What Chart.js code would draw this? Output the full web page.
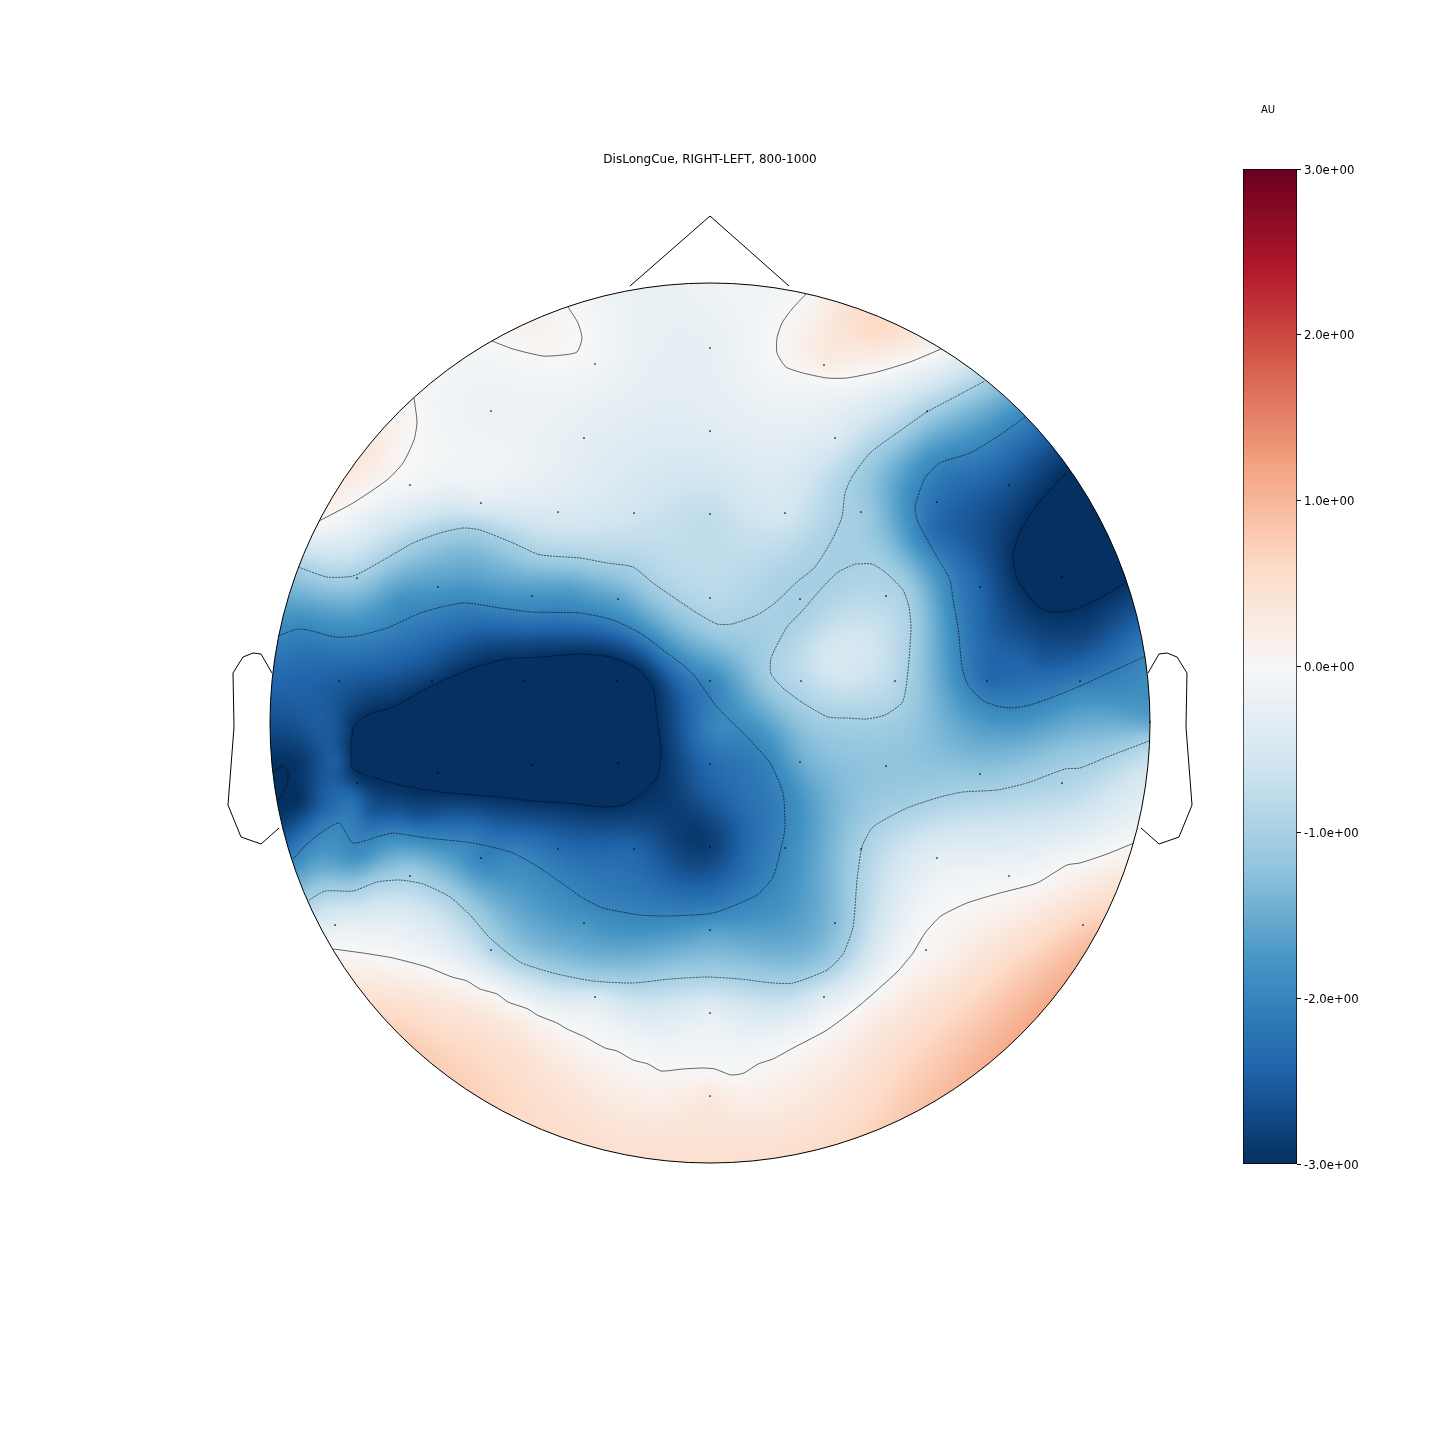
<!DOCTYPE html>
<html>
<head>
<meta charset="utf-8">
<title>DisLongCue</title>
<script src="https://cdn.jsdelivr.net/npm/chart.js@4"></script>
<style>
  html, body { margin: 0; background: #fff; }
  canvas { position: absolute; }
  #headChart { left: 0; top: 0; }
  #barChart { left: 1156px; top: 95px; }
</style>
</head>
<body>
<canvas id="headChart" width="1420" height="1440"></canvas>
<canvas id="barChart" width="224" height="1078"></canvas>
<script>
const chartTitle = 'DisLongCue, RIGHT-LEFT, 800-1000';
const unitLabel = 'AU';
const barTicks = [-3, -2, -1, 0, 1, 2, 3];

// sensors: x, y, value
const sensors = [
  [710,348,-0.25],[595,364,-0.1],[824,365,0.25],[491,411,-0.2],[927,411,-1.0],
  [584,438,-0.3],[710,431,-0.35],[835,438,-0.45],[410,485,-0.05],[1009,485,-2.6],
  [481,503,-0.35],[558,512,-0.45],[634,513,-0.6],[710,514,-0.75],[785,513,-0.55],
  [861,512,-1.05],[937,502,-2.25],[357,578,-1.05],[1062,577,-3.4],[438,587,-1.7],
  [532,596,-1.8],[618,599,-1.6],[710,598,-0.85],[800,599,-1.0],[886,596,-0.9],
  [980,587,-2.4],[339,681,-2.5],[432,681,-2.85],[524,681,-3.1],[617,681,-3.2],
  [710,681,-2.0],[801,681,-0.85],[895,681,-0.85],[987,681,-2.35],[1080,681,-2.15],
  [1150,722,-1.6],[357,783,-2.8],[438,773,-3.4],[532,765,-3.5],[618,763,-3.5],
  [710,764,-2.35],[800,762,-1.5],[886,766,-1.2],[980,774,-1.2],[1062,783,-0.95],
  [481,858,-2.05],[558,849,-2.3],[634,849,-2.4],[710,847,-2.85],[785,848,-1.95],
  [861,849,-1.0],[937,858,-0.3],[1009,876,-0.1],[410,876,-1.0],[335,925,-0.3],
  [584,923,-1.75],[710,930,-1.65],[835,923,-1.3],[1083,925,0.7],[491,950,-0.9],
  [926,950,0.0],[595,997,-0.45],[824,997,-0.4],[710,1013,-0.3],[710,1096,0.3]
];

// colours read along the rim and at a few spots between the sensors
const rimValues = [
  [710,283,-0.15],[630,290,-0.2],[530,318,0.15],[365,450,0.35],[285,610,-1.7],
  [270,700,-2.5],[270,740,-2.8],[278,800,-3],[283,830,-2.7],[380,1015,0.6],
  [400,1040,0.75],[440,1070,0.75],[520,1125,0.6],[610,1152,0.5],[710,1163,0.5],
  [810,1152,0.55],[900,1120,0.8],[975,1075,1.05],[1040,1015,1.15],[1090,940,0.9],
  [880,317,0.6],[850,307,0.45],[760,286,-0.1]
];
const spotValues = [
  [1000,1000,0.8],[860,340,0.4],[870,330,0.6],[375,465,0.25],[850,640,-0.55],
  [830,660,-0.5],[770,610,-0.95],[500,730,-3.8],[320,727,-2.5],[300,680,-2.4],
  [320,660,-2.3],[345,730,-2.7],[300,757,-2.9],[320,760,-2.65],[338,760,-2.45],
  [300,800,-3],[320,790,-2.55],[335,810,-2.3],[353,797,-2.3],[357,813,-2.2],
  [367,813,-2.55],[420,815,-2.65],[500,820,-2.6],[357,860,-1.8],[697,830,-2.9],
  [1090,630,-2.8],[1020,660,-2.4],[930,530,-2.3],[990,530,-2.7],[1000,560,-2.8],
  [1000,620,-2.6],[1040,660,-2.55],[713,730,-2.0],[400,920,-0.35],[440,1030,0.55],
  [420,1040,0.7],[710,1140,0.4],[560,1100,0.45],[860,1100,0.5],[400,598,-1.8],
  [490,580,-1.6],[570,590,-1.7],[670,790,-2.9],[700,790,-2.55],[740,800,-2.3],
  [750,850,-2.3]
];

// contour lines, level then points
const contourTopLeftLevel = 0;
const contourTopLeft = [[414,398],[417,422],[414,440],[403,463],[387,480],[353,503],[319,521]];
const contourTopInnerLevel = 0;
const contourTopInner = [[492,341],[513,349],[543,356],[563,355],[577,352],[582,338],[578,323],[568,307]];
const contourTopRightLevel = 0;
const contourTopRight = [[806,294],[792,309],[782,323],[777,338],[777,353],[786,367],[803,373],[827,378],[847,378],[877,372],[910,362],[941,349]];
const contourBottomLevel = 0;
const contourBottom = [[333,949],[363,953],[393,958],[427,967],[452,977],[467,981],[480,989],[497,994],[508,1002],[528,1009],[537,1015],[557,1023],[567,1029],[585,1037],[605,1048],[617,1051],[633,1060],[648,1064],[661,1071],[683,1069],[703,1068],[715,1069],[731,1075],[744,1073],[758,1064],[773,1059],[793,1048],[827,1030],[860,1005],[897,972],[913,953],[925,933],[941,916],[967,903],[1000,893],[1037,883],[1067,865],[1080,863],[1107,854],[1134,843]];
const contourUpperLevel = -1;
const contourUpper = [[298,567],[327,577],[353,576],[380,562],[413,543],[440,533],[463,528],[480,530],[513,543],[537,554],[550,556],[580,558],[607,563],[633,567],[653,583],[673,597],[697,613],[717,624],[732,624],[757,615],[775,603],[797,582],[815,567],[832,540],[842,517],[845,493],[852,477],[870,453],[897,433],[927,412],[953,398],[985,381]];
const contourIslandLevel = -1;
const contourIsland = [[855,564],[872,564],[885,572],[903,590],[909,607],[911,627],[909,660],[906,688],[902,703],[885,715],[867,719],[847,718],[828,717],[803,703],[783,688],[771,674],[771,658],[787,627],[803,610],[820,590],[838,572],[855,564]];
const contourLowerLevel = -1;
const contourLower = [[309,900],[325,891],[353,891],[377,882],[400,880],[423,884],[450,897],[470,915],[490,938],[520,962],[553,973],[593,981],[633,983],[670,979],[707,977],[740,979],[773,983],[793,983],[827,970],[843,954],[853,927],[857,880],[862,847],[873,827],[907,808],[940,797],[963,792],[997,790],[1027,783],[1065,769],[1080,768],[1107,757],[1149,741]];
const contourCentreLevel = -2;
const contourCentre = [[278,636],[298,629],[312,631],[335,637],[357,636],[387,628],[423,612],[463,603],[500,608],[532,612],[580,613],[613,620],[640,633],[667,653],[692,673],[717,707],[747,737],[770,763],[783,793],[785,827],[783,840],[773,877],[757,895],[720,911],[707,914],[670,916],[640,915],[603,908],[583,898],[543,870],[513,853],[473,843],[427,838],[393,833],[380,836],[353,843],[339,823],[325,830],[308,843],[293,859]];
const contourRightLevel = -2;
const contourRight = [[1025,417],[1000,435],[970,453],[940,463],[925,478],[915,507],[918,522],[937,557],[950,580],[953,600],[958,627],[962,667],[968,685],[982,700],[997,706],[1012,708],[1030,705],[1053,697],[1080,686],[1146,656]];
const contourCoreLevel = -3;
const contourCore = [[353,727],[367,715],[393,707],[433,685],[473,668],[507,659],[540,657],[580,654],[610,657],[637,668],[653,687],[657,720],[661,750],[657,777],[643,793],[623,805],[603,807],[567,803],[533,801],[500,797],[440,792],[400,785],[353,769],[351,747],[353,727]];
const contourPeakLevel = -3;
const contourPeak = [[1068,471],[1053,487],[1033,510],[1018,537],[1013,557],[1017,578],[1030,598],[1040,608],[1053,612],[1073,610],[1100,598],[1125,583]];
const contourEdgeLevel = -3;
const contourEdge = [[273,772],[283,766],[288,772],[287,785],[277,802]];

// head outline
const nose = [[630,286],[710,216],[789,286]];
const leftEar = [[272,673],[261,654],[253,653],[243,657],[233,673],[234,727],[228,805],[241,837],[261,844],[279,828]];
const rightEar = [[1148,673],[1159,654],[1167,653],[1177,657],[1187,673],[1186,727],[1192,805],[1179,837],[1159,844],[1141,828]];
const headCentre = [710, 723];
const headRadius = 440;

const contours = [
  [contourTopLeft, contourTopLeftLevel], [contourTopInner, contourTopInnerLevel],
  [contourTopRight, contourTopRightLevel], [contourBottom, contourBottomLevel],
  [contourUpper, contourUpperLevel], [contourIsland, contourIslandLevel],
  [contourLower, contourLowerLevel], [contourCentre, contourCentreLevel],
  [contourRight, contourRightLevel], [contourCore, contourCoreLevel],
  [contourPeak, contourPeakLevel], [contourEdge, contourEdgeLevel]
];

const rdbu = ['#053061','#2166ac','#4393c3','#92c5de','#d1e5f0','#f7f7f7','#fddbc7','#f4a582','#d6604d','#b2182b','#67001f']
  .map((c) => [1, 3, 5].map((i) => parseInt(c.substr(i, 2), 16)));

function colourFor(v) {
  const t = Math.min(0.99999, Math.max(0, (v + 3) / 6)) * 10;
  const i = Math.floor(t);
  const f = t - i;
  return rdbu[i].map((c, k) => c + (rdbu[i + 1][k] - c) * f);
}

// thin plate spline through everything
function fitField() {
  const pts = sensors.concat(rimValues, spotValues);
  contours.forEach(([line, level]) => line.forEach(([x, y]) => pts.push([x, y, level])));
  const xs = pts.map((p) => (p[0] - headCentre[0]) / headRadius);
  const ys = pts.map((p) => (p[1] - headCentre[1]) / headRadius);
  const n = pts.length;
  const size = n + 3;
  const m = [];
  for (let i = 0; i < size; i++) m.push(new Float64Array(size + 1));
  for (let i = 0; i < n; i++) {
    for (let j = 0; j < n; j++) {
      const d = (xs[i] - xs[j]) ** 2 + (ys[i] - ys[j]) ** 2;
      m[i][j] = d > 0 ? 0.5 * d * Math.log(d) : 0;
    }
    m[i][i] = 0.0005;
    m[i][n] = 1; m[i][n + 1] = xs[i]; m[i][n + 2] = ys[i];
    m[n][i] = 1; m[n + 1][i] = xs[i]; m[n + 2][i] = ys[i];
    m[i][size] = pts[i][2];
  }
  for (let c = 0; c < size; c++) {
    let best = c;
    for (let r = c + 1; r < size; r++) if (Math.abs(m[r][c]) > Math.abs(m[best][c])) best = r;
    [m[c], m[best]] = [m[best], m[c]];
    for (let r = c + 1; r < size; r++) {
      const f = m[r][c] / m[c][c];
      if (f === 0) continue;
      for (let k = c; k <= size; k++) m[r][k] -= f * m[c][k];
    }
  }
  const w = new Float64Array(size);
  for (let r = size - 1; r >= 0; r--) {
    let s = m[r][size];
    for (let k = r + 1; k < size; k++) s -= m[r][k] * w[k];
    w[r] = s / m[r][r];
  }
  return (vx, vy) => {
    const x = (vx - headCentre[0]) / headRadius;
    const y = (vy - headCentre[1]) / headRadius;
    let v = w[n] + w[n + 1] * x + w[n + 2] * y;
    for (let i = 0; i < n; i++) {
      const d = (x - xs[i]) ** 2 + (y - ys[i]) ** 2;
      if (d > 0) v += w[i] * 0.5 * d * Math.log(d);
    }
    return v;
  };
}

function headPath(chart) {
  const { x, y } = chart.scales;
  const px = x.getPixelForValue(headCentre[0]);
  const py = y.getPixelForValue(headCentre[1]);
  const r = x.getPixelForValue(headCentre[0] + headRadius) - px;
  const ctx = chart.ctx;
  ctx.beginPath();
  ctx.arc(px, py, r, 0, Math.PI * 2);
  return { px, py, r };
}

let heatImage = null;
const heatPlugin = {
  id: 'heat',
  beforeDatasetsDraw(chart) {
    const { x, y } = chart.scales;
    const ctx = chart.ctx;
    ctx.save();
    const { px, py, r } = headPath(chart);
    ctx.clip();
    const step = 2;
    const left = Math.floor(px - r) - 4;
    const top = Math.floor(py - r) - 4;
    const size = Math.ceil((2 * r + 8) / step);
    if (!heatImage) {
      const field = fitField();
      heatImage = document.createElement('canvas');
      heatImage.width = heatImage.height = size;
      const hctx = heatImage.getContext('2d');
      const img = hctx.createImageData(size, size);
      for (let j = 0; j < size; j++) {
        for (let i = 0; i < size; i++) {
          const cx = left + (i + 0.5) * step;
          const cy = top + (j + 0.5) * step;
          if ((cx - px) ** 2 + (cy - py) ** 2 > (r + 6) ** 2) continue;
          const c = colourFor(field(x.getValueForPixel(cx), y.getValueForPixel(cy)));
          const o = (j * size + i) * 4;
          img.data[o] = c[0]; img.data[o + 1] = c[1]; img.data[o + 2] = c[2]; img.data[o + 3] = 255;
        }
      }
      hctx.putImageData(img, 0, 0);
    }
    ctx.imageSmoothingEnabled = true;
    ctx.imageSmoothingQuality = 'high';
    ctx.drawImage(heatImage, left, top, size * step, size * step);
    ctx.restore();
  },
  afterDatasetsDraw(chart) {
    const ctx = chart.ctx;
    ctx.save();
    headPath(chart);
    ctx.lineWidth = 1;
    ctx.strokeStyle = '#000';
    ctx.stroke();
    ctx.restore();
  }
};

const toXY = (line) => line.map((p) => ({ x: p[0], y: p[1] }));
const outline = (line) => ({
  data: toXY(line), showLine: true, pointRadius: 0, borderColor: '#000', borderWidth: 1, tension: 0
});

new Chart(document.getElementById('headChart'), {
  type: 'scatter',
  plugins: [heatPlugin],
  data: {
    datasets: [
      ...contours.map(([line, level]) => ({
        data: toXY(line),
        showLine: true,
        pointRadius: 0,
        borderColor: '#000',
        borderWidth: 0.6,
        borderDash: level < 0 ? [2, 1] : [],
        tension: 0.2
      })),
      outline(nose), outline(leftEar), outline(rightEar),
      {
        data: sensors.map((s) => ({ x: s[0], y: s[1] })),
        pointRadius: 0.85,
        pointBorderWidth: 0,
        pointBackgroundColor: '#000'
      }
    ]
  },
  options: {
    responsive: false,
    animation: false,
    layout: { padding: 0, autoPadding: false },
    plugins: {
      legend: { display: false },
      tooltip: { enabled: false },
      title: {
        display: true,
        text: chartTitle,
        color: '#000',
        font: { family: 'DejaVu Sans', size: 12, weight: 'normal' },
        padding: { top: 153, bottom: 12.6 }
      }
    },
    scales: {
      x: { type: 'linear', display: false, min: 0, max: 1420 },
      y: { type: 'linear', display: false, min: 180, max: 1440, reverse: true }
    }
  }
});

function barFill(context) {
  const area = context.chart.chartArea;
  if (!area) return '#fff';
  const g = context.chart.ctx.createLinearGradient(0, area.bottom, 0, area.top);
  const levels = 256;
  for (let i = 0; i < levels; i++) {
    const c = colourFor(-3 + 6 * (i + 0.5) / levels).map(Math.round);
    const css = `rgb(${c[0]},${c[1]},${c[2]})`;
    g.addColorStop(i / levels, css);
    g.addColorStop((i + 1) / levels, css);
  }
  return g;
}

new Chart(document.getElementById('barChart'), {
  type: 'bar',
  data: {
    labels: [unitLabel],
    datasets: [{
      data: [[barTicks[0], barTicks[barTicks.length - 1]]],
      backgroundColor: barFill,
      borderColor: '#000',
      borderWidth: 1,
      borderSkipped: false,
      barPercentage: 1,
      categoryPercentage: 1
    }]
  },
  options: {
    responsive: false,
    animation: false,
    layout: { padding: { left: 0, bottom: 9, top: 0, right: 0 }, autoPadding: false },
    plugins: {
      legend: { display: false },
      tooltip: { enabled: false },
      title: {
        display: true,
        text: unitLabel,
        color: '#000',
        font: { family: 'DejaVu Sans', size: 10, weight: 'normal' },
        padding: { top: 9, bottom: 53 }
      }
    },
    scales: {
      x: { display: false },
      // empty left axis only reserves the room left of the bar, so the title stays centred on the canvas
      spacer: {
        axis: 'y',
        position: 'left',
        grid: { display: false },
        border: { display: false },
        ticks: { display: false },
        afterFit(scale) { scale.width = 87; }
      },
      y: {
        position: 'right',
        min: barTicks[0],
        max: barTicks[barTicks.length - 1],
        afterBuildTicks(scale) { scale.ticks = barTicks.map((v) => ({ value: v })); },
        afterFit(scale) { scale.width = 83; },
        border: { display: false },
        grid: { drawOnChartArea: false, drawTicks: true, tickLength: 4, color: '#000' },
        ticks: {
          color: '#000',
          padding: 3,
          font: { family: 'DejaVu Sans', size: 11.7, lineHeight: '3px' },
          callback: (v) => ['', v.toExponential(1).replace(/e([+-])(\d)$/, 'e$10$2')]
        }
      }
    }
  }
});
</script>
</body>
</html>
